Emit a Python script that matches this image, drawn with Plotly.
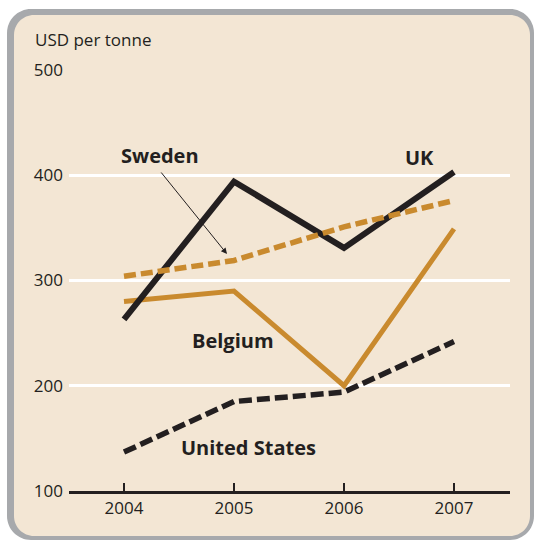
import plotly.graph_objects as go

# Prices, USD per tonne
years = [2004, 2005, 2006, 2007]
uk = [263, 394, 331, 403]
sweden = [304, 319, 351, 376]
belgium = [280, 290, 200, 349]
united_states = [137, 185, 194, 242]
y_ticks = [100, 200, 300, 400, 500]

BLACK = "#231F20"
ORANGE = "#C98A2E"
BEIGE = "#F3E6D4"
FRAME = "#A7A9AC"
FONT = "Open Sans"

W, H = 534, 540
L, R, T, B = 69, 24, 70, 49
PW, PH = W - L - R, H - T - B
X0 = years[0] - 55 / 110


def px(x, y):
    """Pixel position -> paper coordinates."""
    return (x - L) / PW, (H - B - y) / PH


def data_xy(xp, yp):
    """Pixel position -> data coordinates."""
    return X0 + (xp - L) / 110, y_ticks[-1] - (yp - T) * (y_ticks[-1] - y_ticks[0]) / PH


def rounded_rect(x0, y0, x1, y1, r):
    k = 0.5523 * r

    def p(x, y):
        a, b = px(x, y)
        return f"{a:.5f},{b:.5f}"

    d = f"M{p(x0 + r, y0)} L{p(x1 - r, y0)} "
    d += f"C{p(x1 - r + k, y0)} {p(x1, y0 + r - k)} {p(x1, y0 + r)} "
    d += f"L{p(x1, y1 - r)} "
    d += f"C{p(x1, y1 - r + k)} {p(x1 - r + k, y1)} {p(x1 - r, y1)} "
    d += f"L{p(x0 + r, y1)} "
    d += f"C{p(x0 + r - k, y1)} {p(x0, y1 - r + k)} {p(x0, y1 - r)} "
    d += f"L{p(x0, y0 + r)} "
    d += f"C{p(x0, y0 + r - k)} {p(x0 + r - k, y0)} {p(x0 + r, y0)} Z"
    return d


fig = go.Figure()

fig.add_trace(go.Scatter(x=years, y=belgium, mode="lines",
                         line=dict(color=ORANGE, width=5), hoverinfo="skip"))
fig.add_trace(go.Scatter(x=years, y=united_states, mode="lines",
                         line=dict(color=BLACK, width=5.5, dash="13px,5px"), hoverinfo="skip"))
fig.add_trace(go.Scatter(x=years, y=uk, mode="lines",
                         line=dict(color=BLACK, width=6), hoverinfo="skip"))
fig.add_trace(go.Scatter(x=years, y=sweden, mode="lines",
                         line=dict(color=ORANGE, width=5.5, dash="12px,5px"), hoverinfo="skip"))

# Frame: grey rounded panel with a beige card on top
fig.add_shape(type="path", xref="paper", yref="paper", layer="below",
              path=rounded_rect(7, 9, 534, 540, 24), fillcolor=FRAME, line=dict(width=0))
fig.add_shape(type="path", xref="paper", yref="paper", layer="below",
              path=rounded_rect(14, 15, 530, 536, 20), fillcolor=BEIGE, line=dict(width=0))

label_font = dict(family=FONT, size=20, color=BLACK, weight="bold")

for text, (xp, yp) in [("Sweden", (160, 155)), ("UK", (419, 157)),
                       ("Belgium", (233, 340)), ("United States", (248, 447))]:
    ax_, ay_ = data_xy(xp, yp)
    fig.add_annotation(x=ax_, y=ay_, text=text, showarrow=False, font=label_font,
                       xanchor="center", yanchor="middle")

# Pointer from the Sweden label to its line
hx, hy = data_xy(227, 254)
fig.add_annotation(x=hx, y=hy, text="", showarrow=True, arrowhead=2, arrowsize=1.2,
                   arrowwidth=1, arrowcolor=BLACK, ax=160 - 227, ay=171 - 254,
                   axref="pixel", ayref="pixel")

ux, uy = px(33, 40)
fig.add_annotation(x=ux, y=uy, xref="paper", yref="paper", text="USD per tonne",
                   showarrow=False, xanchor="left", yanchor="middle",
                   font=dict(family=FONT, size=17, color=BLACK))

fig.update_layout(
    width=W, height=H,
    margin=dict(l=L, r=R, t=T, b=B),
    paper_bgcolor="white",
    plot_bgcolor="rgba(0,0,0,0)",
    showlegend=False,
    font=dict(family=FONT, size=17, color=BLACK),
    xaxis=dict(range=[X0, years[-1] + 56 / 110],
               tickvals=years, ticktext=[str(y) for y in years],
               showgrid=False, zeroline=False,
               showline=True, linecolor=BLACK, linewidth=2.5,
               ticks="inside", ticklen=8, tickwidth=2, tickcolor=BLACK,
               tickfont=dict(family=FONT, size=17, color=BLACK),
               fixedrange=True),
    yaxis=dict(range=[y_ticks[0], y_ticks[-1]], tickvals=y_ticks,
               showgrid=True, gridcolor="white", gridwidth=2.5,
               zeroline=False, showline=False, ticks="",
               ticklabelstandoff=5,
               tickfont=dict(family=FONT, size=17, color=BLACK),
               fixedrange=True),
)

fig.write_html("out.html")
